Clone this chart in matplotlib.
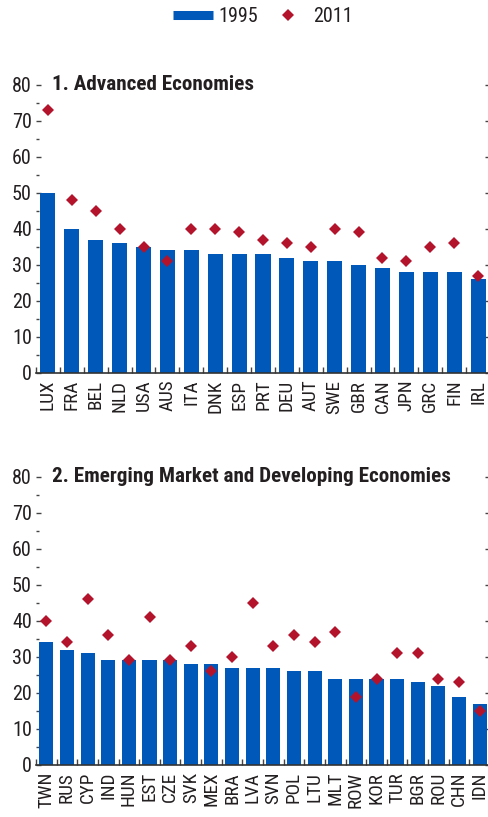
import matplotlib
matplotlib.use("Agg")
import matplotlib.pyplot as plt
from matplotlib.lines import Line2D
from matplotlib.ticker import MultipleLocator

# ---------------- data ----------------
adv_countries = ["LUX", "FRA", "BEL", "NLD", "USA", "AUS", "ITA", "DNK", "ESP", "PRT",
                 "DEU", "AUT", "SWE", "GBR", "CAN", "JPN", "GRC", "FIN", "IRL"]
adv_1995 = [50, 40, 37, 36, 35, 34, 34, 33, 33, 33, 32, 31, 31, 30, 29, 28, 28, 28, 26]
adv_2011 = [73, 48, 45, 40, 35, 31, 40, 40, 39, 37, 36, 35, 40, 39, 32, 31, 35, 36, 27]

eme_countries = ["TWN", "RUS", "CYP", "IND", "HUN", "EST", "CZE", "SVK", "MEX", "BRA", "LVA",
                 "SVN", "POL", "LTU", "MLT", "ROW", "KOR", "TUR", "BGR", "ROU", "CHN", "IDN"]
eme_1995 = [34, 32, 31, 29, 29, 29, 29, 28, 28, 27, 27, 27, 26, 26, 24, 24, 24, 24, 23, 22, 19, 17]
eme_2011 = [40, 34, 46, 36, 29, 41, 29, 33, 26, 30, 45, 33, 36, 34, 37, 19, 24, 31, 31, 24, 23, 15]

titles = ["1. Advanced Economies", "2. Emerging Market and Developing Economies"]
series_labels = ["1995", "2011"]
y_ticks = [0, 10, 20, 30, 40, 50, 60, 70, 80]

# ---------------- style ----------------
BLUE = "#0059B8"
RED = "#B3142C"
TXT = "#231F20"
COND = ["Roboto Condensed", "DejaVu Sans"]
MS = 5.7

W, H = 488, 817
fig = plt.figure(figsize=(W / 100, H / 100), dpi=100)
AX_L, AX_R = 36, 490


def px_axes(left, top, right, bottom):
    return fig.add_axes([left / W, 1 - bottom / H, (right - left) / W, (bottom - top) / H])


panels = [
    (adv_countries, adv_1995, adv_2011, titles[0], 85.0, 372.7, 0.63),
    (eme_countries, eme_1995, eme_2011, titles[1], 476.7, 765.0, 0.68),
]

for countries, v95, v11, title, top, bottom, bw in panels:
    ax = px_axes(AX_L, top, AX_R, bottom)
    n = len(countries)
    x = list(range(n))
    ax.bar(x, v95, width=bw, color=BLUE, zorder=2)
    ax.plot(x, v11, linestyle="none", marker="D", markersize=MS,
            color=RED, markeredgewidth=0, zorder=3)
    ax.set_xlim(-0.5, n - 0.5)
    ax.set_ylim(0, 80)

    for s in ["left", "right", "top"]:
        ax.spines[s].set_visible(False)
    ax.spines["bottom"].set_color("#333333")
    ax.spines["bottom"].set_linewidth(1.2)

    # y ticks on both sides, inward; labels on the left only
    ax.set_yticks(y_ticks)
    ax.yaxis.set_minor_locator(MultipleLocator(5))
    ax.tick_params(axis="y", which="major", direction="in", length=3.6, width=1.0,
                   color="#444444", left=True, right=True, labelleft=True,
                   labelright=False, pad=3, labelsize=14.5, labelcolor=TXT)
    ax.tick_params(axis="y", which="minor", direction="in", length=1.8, width=1.0,
                   color="#444444", left=True, right=True)
    for lab in ax.get_yticklabels():
        lab.set_fontfamily(COND)

    # x ticks between bars (inward); country labels at bar centres
    ax.set_xticks([i - 0.5 for i in range(n + 1)])
    ax.set_xticklabels([])
    ax.tick_params(axis="x", which="major", direction="in", length=4, width=1.0,
                   color="#444444")
    ax.set_xticks(x, minor=True)
    ax.set_xticklabels(countries, minor=True, rotation=90, fontsize=13.8,
                       family=COND, color=TXT)
    ax.tick_params(axis="x", which="minor", length=0, pad=5)

    ax.text(16 / (AX_R - AX_L), 80, title, transform=ax.get_yaxis_transform(),
            fontsize=15.2, fontweight="bold", family=COND, color=TXT,
            ha="left", va="center")

# ---------------- legend ----------------
handles = [
    Line2D([], [], color=BLUE, linewidth=6.5, solid_capstyle="butt"),
    Line2D([], [], linestyle="none", marker="D", markersize=MS, color=RED,
           markeredgewidth=0),
]
fig.legend(handles, series_labels, loc="center", bbox_to_anchor=(263 / W, 1 - 17 / H),
           ncol=2, frameon=False, handlelength=2.0, handletextpad=0.25,
           columnspacing=0.5, borderpad=0, prop={"family": COND, "size": 14.5},
           labelcolor=TXT)

fig.savefig("out.png", dpi=100)
